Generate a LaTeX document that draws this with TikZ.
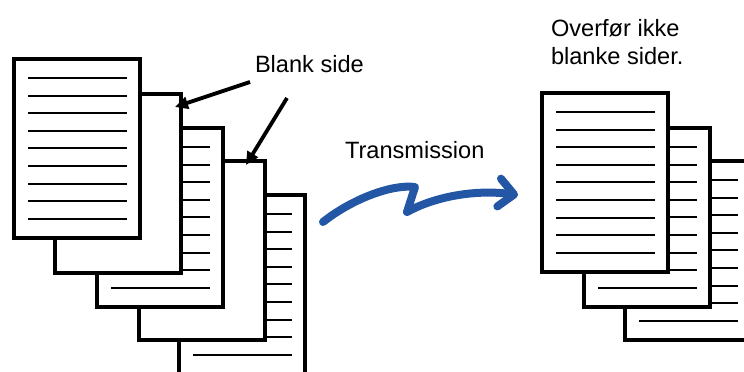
\documentclass[tikz,border=0pt]{standalone}
\usepackage{fontspec}
\setmainfont{Liberation Sans}
\usetikzlibrary{arrows.meta, positioning}
\definecolor{txblue}{RGB}{35,87,166}

\begin{document}
\begin{tikzpicture}[
    x=1pt, y=-1pt,
    every node/.style={inner sep=0pt, outer sep=0pt},
    sheet/.style={
        draw,
        fill=white,
        line width=3.8pt,
        minimum width=126pt,
        minimum height=179pt,
        anchor=north west
    },
    textline/.style={line width=2pt},
    label/.style={font=\fontsize{23.6}{28.5}\selectfont, align=left},
    pointer/.style={line width=3.8pt, -{Triangle[length=13pt,width=12pt]}},
    txarrow/.style={draw=txblue, line width=8pt, line cap=round, line join=round,
        -{Straight Barb[length=15pt,width=28pt,round]}}
]
\useasboundingbox (0,0) rectangle (744,372);

%% ── Original pages (back to front) ──────────────────────────────────────────
\node[sheet] (p5) at (179,195) {};
\foreach \i in {0,...,8}
    \draw[textline] ([shift={(14,19+17.6*\i)}]p5.north west) -- ++(99,0);
\node[sheet] (p4) at (139,161) {};
\node[sheet] (p3) at (97,128) {};
\foreach \i in {0,...,8}
    \draw[textline] ([shift={(14,19+17.6*\i)}]p3.north west) -- ++(99,0);
\node[sheet] (p2) at (55,94) {};
\node[sheet] (p1) at (14,59) {};
\foreach \i in {0,...,8}
    \draw[textline] ([shift={(14,19+17.6*\i)}]p1.north west) -- ++(99,0);

%% ── Blank page label ────────────────────────────────────────────────────────
\node[label, anchor=base west] (blank) at (255,72) {Blank side};
\coordinate (b1) at (250,82);
\coordinate (b2) at (287,98);
\coordinate (t1) at ([shift={(-6,13)}]p2.north east);
\coordinate (t2) at ([shift={(-19,4)}]p4.north east);
\draw[pointer] (b1) -- (t1);
\draw[pointer] (b2) -- (t2);

%% ── Transmission ────────────────────────────────────────────────────────────
\node[label, anchor=base west] (trans) at (345,158) {Transmission};
\coordinate (tx0) at (323,222);
\coordinate (tx1) at (518,195);
\draw[txarrow] (tx0) .. controls (352,199) and (392,184) .. (415,187)
    -- (407,212) .. controls (432,198) and (472,189) .. (tx1);

%% ── Sent pages (back to front) ──────────────────────────────────────────────
\node[sheet] (pC) at (625,161) {};
\foreach \i in {0,...,8}
    \draw[textline] ([shift={(14,19+17.6*\i)}]pC.north west) -- ++(99,0);
\node[sheet] (pB) at (584,128) {};
\foreach \i in {0,...,8}
    \draw[textline] ([shift={(14,19+17.6*\i)}]pB.north west) -- ++(99,0);
\node[sheet] (pA) at (542,93) {};
\foreach \i in {0,...,8}
    \draw[textline] ([shift={(14,19+17.6*\i)}]pA.north west) -- ++(99,0);

\node[label, anchor=north west] (note) at (551,19) {Overfør ikke\\blanke sider.};

\end{tikzpicture}
\end{document}
